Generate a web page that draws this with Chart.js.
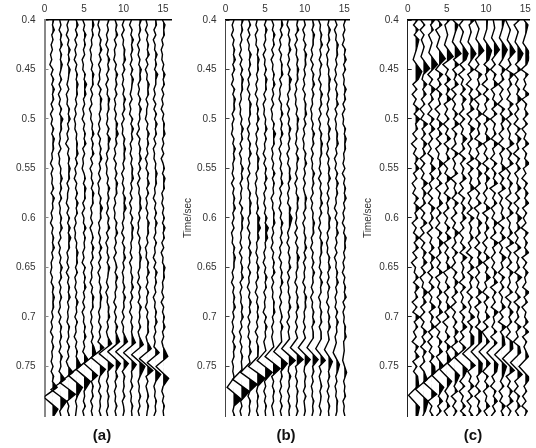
<!DOCTYPE html>
<html>
<head>
<meta charset="utf-8">
<script src="https://cdn.jsdelivr.net/npm/chart.js@4"></script>
<style>
html, body { margin: 0; padding: 0; background: #fff; overflow: hidden; width: 536px; height: 448px; }
canvas { position: absolute; top: 0; }
.caption { position: absolute; top: 426px; width: 60px; text-align: center; font: bold 15px 'Liberation Sans'; color: #111; }
</style>
</head>
<body>
<canvas id="panelA" width="204" height="448" style="left:0"></canvas>
<canvas id="panelB" width="209" height="448" style="left:181px"></canvas>
<canvas id="panelC" width="176" height="448" style="left:360px"></canvas>
<div class="caption" style="left:72px">(a)</div>
<div class="caption" style="left:256px">(b)</div>
<div class="caption" style="left:443px">(c)</div>
<script>
Chart.defaults.font.family = 'Liberation Sans';
Chart.defaults.font.size = 10;
Chart.defaults.color = '#333';

const traceTicks = [0, 5, 10, 15];
const timeTicks = [0.4, 0.45, 0.5, 0.55, 0.6, 0.65, 0.7, 0.75];
const traceNumbers = [1, 2, 3, 4, 5, 6, 7, 8, 9, 10, 11, 12, 13, 14, 15];

// sample times in ms, amplitudes below are in tenths of a trace spacing
const timeSamples = [400,405,410,415,420,425,430,435,440,445,450,455,460,465,470,475,480,485,490,495,500,505,510,515,520,525,530,535,540,545,550,555,560,565,570,575,580,585,590,595,600,605,610,615,620,625,630,635,640,645,650,655,660,665,670,675,680,685,690,695,700,705,710,715,720,725,730,735,740,745,750,755,760,765,770,775,780,785,790,795,800];

const noiseA = [
[2,0,3,-1,1,-2,0,-3,-1,-4,1,-2,2,-1,3,0,2,-2,1,-3,0,-2,2,-1,3,1,2,-1,0,-3,1,-2,0,-1,2,-2,3,0,1,-2,0,-3,1,-1,2,0,3,-1,1,-2,-1,-3,0,-2,2,0,3,1,2,-1,1,-2,0,-3,1,-1,2,-1,0,-2,1,-2,2,0,1,-1,2,-2,1,-1,2,0,1],
[-1,1,-2,2,0,3,-1,2,0,3,1,-1,2,-2,1,-3,0,-2,2,-1,4,1,2,-1,0,-2,1,-3,-1,-2,1,0,3,0,2,-1,2,-2,0,-1,2,0,3,-1,1,-3,0,-2,1,-1,3,0,2,-2,1,-1,2,-1,0,-3,1,-2,2,0,2,-1,1,-2,3,0,1,-2,0,-3,1,-1,2,0,2,-1,1,-2,0],
[1,-2,0,-3,1,-1,3,0,2,-1,3,1,0,-2,1,-3,-1,-2,2,0,3,-1,1,-2,0,-4,1,-1,2,0,3,1,2,-2,1,-1,-1,-3,1,-2,2,-1,3,0,4,1,2,-2,0,-2,1,-3,1,-1,2,0,3,-1,1,-1,0,-2,2,0,1,-2,2,-1,1,-3,0,-1,2,-1,3,0,1,-2,1,-1,2],
[0,3,-1,2,-2,1,-2,0,-3,1,-1,2,0,3,1,2,-1,1,-2,0,-3,-1,-2,1,0,2,1,3,-1,2,-2,0,-3,1,-1,2,-1,3,0,2,-2,0,-3,-1,-2,1,0,3,1,2,-1,2,-2,0,-2,1,-1,3,0,1,-2,2,-1,0,-3,1,-1,2,0,3,-1,1,-2,1,-2,0,2,-1,1,0,-1],
[-2,1,-1,3,0,2,-1,1,-3,-1,-2,2,0,4,1,3,-1,1,-2,0,-3,1,-1,2,0,3,-2,1,-2,-1,-3,0,2,-1,3,1,2,-2,1,-3,0,-1,3,-1,2,0,1,-2,0,-3,2,-1,2,0,3,-1,1,-2,1,-3,0,-1,2,0,3,-1,1,-2,0,-2,2,-1,1,-2,3,0,1,-1,2,-2,0],
[1,3,0,2,-1,0,-3,-1,-2,1,-1,3,1,2,-2,1,-2,0,-4,-1,-2,1,0,3,-1,2,0,3,-2,1,-3,0,-1,2,-1,3,1,2,-2,0,-2,1,-3,0,2,-1,3,0,2,-2,1,-1,0,-3,1,-1,3,1,2,-2,0,-2,1,-1,2,-1,3,0,1,-2,1,-3,0,-1,2,0,2,-2,1,-1,1],
[-1,-3,0,-2,2,0,3,-1,2,-2,1,-1,0,-3,2,-1,3,1,2,-1,1,-2,0,-3,1,-1,2,0,3,-1,1,-2,1,-3,-1,-2,2,0,4,1,2,-2,0,-2,1,-1,3,-1,2,-2,1,-3,0,-1,2,0,3,1,1,-2,0,-2,2,-1,1,-3,1,-1,3,0,2,-1,0,-2,1,-2,2,0,1,-1,2],
[2,-1,1,-2,0,-3,1,-1,3,0,2,-2,1,-3,0,-1,3,1,2,-1,0,-2,2,-1,4,1,2,-2,0,-3,-1,-2,1,-1,3,0,2,-1,1,-2,2,0,3,-2,1,-3,0,-1,2,-1,3,1,0,-2,1,-3,0,-1,2,1,3,-1,1,-2,0,-1,2,-1,1,-2,2,0,1,-2,1,-1,2,0,1,-2,0],
[-1,2,0,3,-2,1,-2,-1,-3,1,-1,3,0,2,-1,2,-2,0,-2,1,-1,3,1,4,0,2,-2,0,-3,1,-1,2,-1,3,1,2,-2,0,-3,-1,-2,2,0,3,-1,1,-2,1,-3,0,2,-1,3,0,2,-1,0,-3,1,-2,1,-1,3,0,2,-2,1,-1,0,-2,2,0,3,-1,1,-2,0,-1,2,-1,1],
[1,-2,1,-3,0,-1,2,1,3,-1,2,-2,0,-2,1,-1,3,0,2,-2,1,-3,-1,-2,2,0,3,1,2,-1,1,-3,0,-2,1,-1,3,1,4,0,1,-2,0,-3,1,-2,2,0,3,-1,1,-2,0,-1,2,-1,3,0,1,-2,1,-3,0,-1,3,-1,2,0,1,-2,1,-2,2,0,1,-1,2,-2,0,1,-1],
[0,-3,1,-1,3,0,2,-1,1,-2,2,-1,3,1,0,-2,1,-3,-1,-3,2,-1,3,0,2,-2,0,-2,1,-1,2,1,3,-1,1,-2,1,-3,0,-2,2,-1,3,1,2,-1,0,-2,1,-3,0,-1,2,0,3,-1,2,-2,0,-3,1,-1,2,0,2,-1,1,-2,1,-2,3,0,1,-1,2,-2,0,-1,2,0,1],
[3,0,2,-1,1,-3,0,-2,1,-1,3,1,2,-2,0,-2,2,-1,3,0,1,-2,0,-4,1,-1,2,0,3,-1,2,-2,1,-3,0,-1,2,1,3,-1,1,-2,-1,-3,1,-1,2,0,3,1,1,-2,0,-3,2,-1,1,-2,3,0,1,-1,2,-2,0,-3,1,-1,2,0,3,-1,1,-2,0,-1,2,-1,1,-2,0],
[-2,0,-3,1,-1,2,0,3,-2,1,-3,0,-1,3,1,2,-2,1,-1,-1,-3,1,-1,3,0,2,-1,1,-3,0,-2,2,0,3,-1,2,-2,0,-2,1,-1,3,1,2,-1,1,-3,-1,-2,2,0,3,-1,1,-2,2,-1,0,-3,1,-1,2,1,2,-2,0,-2,1,-1,3,0,1,-2,1,-2,0,2,-1,2,0,-1],
[1,2,-2,1,-3,0,-1,3,0,2,-1,4,1,1,-2,0,-3,1,-2,2,-1,3,0,2,-2,1,-3,-1,-2,1,0,3,1,2,-1,0,-3,1,-1,2,-1,3,0,1,-2,2,-1,0,-3,1,-2,3,0,2,-1,1,-3,0,-1,2,0,3,-1,1,-2,0,-2,1,-1,2,0,3,-1,1,-2,0,-1,2,0,1,-2],
[-1,3,1,2,-2,0,-3,-1,-2,1,-1,3,0,2,-2,1,-2,0,-3,1,-1,2,1,3,-1,1,-2,1,-3,0,2,-1,3,1,2,-2,0,-2,1,-1,2,-1,3,0,2,-2,1,-3,0,-1,3,1,2,-1,0,-2,1,-3,1,-1,2,0,3,-1,1,-2,0,-1,2,0,1,-2,2,-1,0,-2,1,-1,2,0,1]
];
const noiseB = [
[1,-2,0,-3,1,-1,2,0,3,-1,2,-2,0,-3,2,-1,3,1,2,-2,1,-2,-1,-3,1,-1,3,0,2,-1,0,-2,1,-3,1,-1,2,0,3,-1,1,-2,1,-3,-1,-2,2,0,3,1,1,-2,0,-3,1,-1,2,0,3,-1,1,-2,0,-2,2,-1,3,0,1,-2,0,-1,2,-1,3,0,1,-2,1,-1,2],
[3,0,2,-1,1,-2,0,-3,1,-2,2,-1,3,1,2,-1,0,-3,-1,-2,1,-1,3,0,2,-2,1,-3,0,-1,3,0,2,-2,1,-1,0,-3,2,-1,3,1,2,-1,0,-2,1,-3,1,-1,2,0,3,-2,1,-2,0,-1,2,0,3,-1,1,-3,0,-2,1,-1,2,0,1,-2,1,-2,2,0,3,-1,1,-2,0],
[-1,2,-2,1,-3,0,-1,3,0,2,-1,2,-2,0,-3,1,-1,3,1,2,-1,1,-3,0,-2,2,0,3,-1,1,-2,1,-3,-1,-2,2,0,3,1,2,-2,0,-3,1,-1,2,-1,3,0,1,-2,2,-1,0,-3,1,-1,3,0,2,-2,1,-2,0,-2,2,0,3,-1,1,-2,0,-1,2,-1,1,-2,2,0,1,-1],
[0,-2,1,-3,-1,-2,2,0,3,1,2,-1,1,-2,0,-3,1,-1,2,0,3,-1,2,-2,0,-2,1,-1,3,1,2,-2,0,-3,-1,-2,1,0,2,-1,4,2,5,1,3,-1,0,-2,1,-1,3,0,2,-2,0,-3,1,-1,2,0,2,-1,1,-3,1,-1,2,0,3,-1,1,-2,0,-2,1,-1,2,0,1,-1,2],
[2,-1,3,0,1,-2,1,-3,0,-1,2,-1,3,1,2,-2,1,-3,-1,-2,1,0,3,-1,2,-1,0,-3,1,-2,2,0,3,-1,2,-2,0,-2,1,-1,3,0,5,2,4,0,1,-2,0,-3,1,-1,3,0,2,-2,1,-1,0,-3,2,-1,3,0,1,-2,1,-2,0,-1,2,0,3,-1,1,-2,1,-1,2,0,1],
[-2,1,-1,3,0,2,-2,1,-3,0,-1,2,0,3,-1,1,-2,1,-3,-1,-2,2,0,4,1,2,-2,0,-2,1,-1,3,-1,2,0,1,-3,0,-1,2,1,3,-1,1,-2,0,-3,1,-1,2,0,3,-2,1,-2,0,-1,2,1,3,-1,1,-2,0,-2,1,-1,2,-1,3,0,1,-2,1,-1,2,0,1,-2,0,1],
[1,3,-1,2,-2,0,-3,1,-1,2,1,3,-2,1,-2,-1,-3,1,0,3,-1,2,0,3,-1,1,-3,0,-2,1,-1,2,0,3,-2,1,-2,0,-3,1,-1,3,0,2,-1,2,-2,0,-3,1,-1,2,0,3,-1,1,-2,1,-2,0,2,-1,3,0,1,-2,0,-3,1,-1,2,0,2,-1,1,-2,1,-1,2,-1,1],
[-1,-3,1,-1,2,0,3,-1,1,-2,2,-1,4,1,2,-2,0,-3,1,-2,1,-1,3,0,2,-1,1,-3,0,-2,2,1,3,-1,1,-2,0,-2,3,1,5,3,1,-2,0,-3,1,-1,2,0,3,-2,1,-2,0,-1,2,0,3,-1,1,-3,1,-1,2,0,2,-2,1,-2,0,-1,3,0,1,-2,1,-1,2,0,1],
[2,0,3,-2,1,-3,0,-1,2,0,3,1,2,-2,0,-3,-1,-2,1,-1,3,1,2,-1,0,-2,2,-1,3,0,1,-2,1,-3,0,-1,3,1,2,-1,0,-2,1,-3,1,-2,2,0,4,1,2,-1,0,-3,1,-1,2,0,3,-1,1,-2,1,-2,0,2,-1,3,0,1,-2,0,-2,1,-1,2,0,1,-1,2,-1],
[-1,1,-3,0,-2,2,-1,3,1,2,-1,1,-2,0,-3,1,-1,2,1,3,-1,2,-2,0,-3,-1,-2,2,0,3,-1,1,-2,1,-2,0,3,1,2,-2,1,-3,0,-1,2,0,3,-1,2,-2,1,-1,0,-3,1,-1,3,1,2,-1,0,-2,1,-2,2,-1,3,0,1,-2,0,-1,2,0,1,-2,2,-1,0,1,-1],
[0,2,-1,3,1,1,-2,0,-3,1,-2,2,0,3,-1,2,-1,0,-3,-1,-2,1,-1,3,0,2,-2,1,-2,0,-1,3,0,2,-1,1,-3,0,-2,1,0,3,1,2,-2,0,-3,1,-1,2,-1,3,0,1,-2,1,-3,0,-1,2,0,3,-1,1,-2,0,-2,1,-1,2,0,2,-1,1,-2,0,-1,2,0,1,-1],
[-3,0,-1,2,0,3,-1,1,-2,2,-1,0,-3,1,-1,3,0,2,-2,1,-3,0,-2,2,0,3,1,2,-1,0,-2,1,-3,1,-1,2,0,3,-1,2,-2,0,-3,1,-1,3,1,2,-1,0,-2,2,-1,3,0,1,-3,0,-1,2,0,2,-2,1,-2,0,-1,3,0,1,-2,1,-2,0,2,-1,1,0,-2,1,-1],
[1,-1,3,0,2,-2,1,-3,-1,-2,1,0,3,1,2,-1,1,-2,0,-3,1,-1,3,0,2,-2,0,-3,1,-1,2,0,3,-1,1,-2,1,-2,0,-1,3,1,2,-2,0,-3,-1,-2,2,0,3,-1,1,-2,2,-1,0,-3,1,-1,2,0,3,-1,1,-2,0,-2,1,-1,2,0,2,-1,1,-2,1,-1,2,0,1],
[-2,1,-3,0,-1,3,1,2,-1,1,-2,0,-3,1,-1,2,0,3,-2,1,-2,0,-1,2,1,3,-1,1,-3,0,-2,2,-1,3,0,2,-1,0,-3,1,-2,2,0,3,-1,1,-2,1,-3,0,-1,2,0,3,-1,1,-2,0,-2,2,-1,3,0,1,-2,1,-3,0,-1,2,0,2,-1,1,-2,0,-1,2,1,1,-1],
[2,-1,1,-2,0,-3,2,0,3,-1,2,-2,0,-1,3,0,2,-2,1,-3,-1,-2,2,0,3,1,2,-1,0,-2,1,-3,1,-1,2,0,3,-1,1,-2,0,-3,1,-1,3,1,2,-1,1,-2,0,-3,1,-1,2,0,3,-2,1,-2,0,-1,2,1,3,-1,1,-2,0,-2,1,-1,2,-1,1,0,2,-2,0,-1,1]
];
const noiseC = [
[3,-3,4,-2,5,-4,1,-5,3,-2,6,-1,4,-4,2,-5,1,-3,5,-2,6,0,3,-4,2,-6,1,-3,4,-1,5,-3,2,-5,0,-4,4,-2,6,-1,3,-5,1,-3,5,-2,4,-4,2,-6,0,-2,4,-3,5,-1,3,-5,2,-4,6,-2,3,-3,1,-5,4,-1,5,-4,2,-3,3,-5,1,-2,4,-3,5,-1,3],
[-4,2,-5,1,-3,5,-1,4,-4,3,-6,0,-2,5,-1,4,-3,2,-5,1,-4,6,-2,3,-3,5,-1,3,-5,2,-4,1,-3,6,-2,4,-1,3,-5,2,-3,5,-4,1,-6,2,-3,4,-1,5,-3,3,-5,0,-2,6,-1,4,-4,2,-5,1,-3,5,-2,3,-4,4,-1,2,-5,1,-3,4,-2,5,-3,2,-4,3,-1],
[5,-1,3,-4,2,-6,1,-3,4,-2,5,-5,2,-3,6,-1,3,-4,1,-5,4,-2,5,-3,2,-4,0,-5,3,-1,6,-2,4,-3,1,-5,2,-4,5,-1,3,-3,2,-6,1,-2,4,-3,5,-1,3,-5,2,-3,4,-4,1,-2,6,-3,3,-1,5,-4,2,-5,1,-3,4,-2,5,-4,2,-3,3,-1,4,-5,1,-2,3],
[-2,4,-5,3,-1,6,-3,2,-4,1,-5,5,-2,3,-4,4,-1,2,-6,1,-3,5,-2,4,-4,3,-5,0,-2,6,-1,3,-3,4,-5,2,-1,5,-3,3,-4,1,-5,4,-2,6,-1,3,-4,2,-3,5,-5,1,-2,4,-3,3,-1,5,-4,2,-6,1,-3,4,-1,5,-4,3,-2,2,-5,1,-3,4,-1,5,-2,3,-4],
[4,-3,2,-5,5,-1,3,-4,1,-6,2,-2,5,-3,4,-1,6,-4,1,-3,3,-5,2,-2,5,-4,3,-1,4,-5,1,-3,6,-2,2,-4,5,-1,3,-5,1,-3,4,-2,6,-4,2,-3,3,-1,5,-5,1,-2,4,-4,2,-1,5,-3,3,-6,1,-2,4,-3,5,-1,2,-4,3,-5,1,-2,5,-3,2,-1,4,-4,1],
[-3,5,-1,2,-4,4,-5,1,-2,6,-3,3,-1,5,-5,2,-4,1,-3,4,-2,6,-4,3,-1,2,-5,5,-3,1,-2,4,-6,2,-1,3,-4,5,-2,3,-5,1,-3,6,-1,2,-4,4,-3,1,-5,3,-2,5,-1,4,-4,2,-6,1,-3,3,-2,5,-1,4,-5,2,-3,1,-4,5,-2,3,-1,4,-5,2,-3,3,-2],
[1,-5,4,-2,6,-3,2,-1,5,-4,3,-6,1,-2,4,-3,5,-1,2,-5,3,-4,1,-2,6,-1,3,-5,4,-3,2,-1,5,-4,1,-6,3,-2,4,-1,5,-3,2,-5,1,-3,4,-4,6,-2,2,-1,3,-5,4,-3,1,-2,5,-4,3,-1,6,-3,2,-5,1,-3,4,-2,5,-1,2,-4,3,-5,1,-2,4,-3,5],
[6,-2,1,-4,3,-5,4,-1,2,-3,5,-4,1,-6,3,-2,4,-1,5,-5,2,-3,6,-1,3,-4,1,-2,5,-5,4,-3,2,-1,6,-4,1,-3,3,-5,5,-2,2,-1,4,-3,1,-6,3,-2,5,-4,4,-1,2,-5,3,-3,1,-2,6,-4,3,-1,5,-5,2,-3,4,-1,3,-4,1,-2,5,-3,3,-5,1,-2,4],
[-5,2,-1,4,-3,6,-2,3,-4,1,-5,5,-1,2,-3,4,-6,1,-2,5,-4,3,-1,2,-5,6,-3,1,-4,4,-2,5,-1,3,-5,2,-3,4,-6,1,-2,5,-1,3,-4,2,-5,4,-1,6,-3,2,-4,1,-2,5,-3,4,-5,1,-1,3,-4,5,-2,2,-6,3,-1,4,-3,5,-2,1,-4,3,-5,2,-1,4,-3],
[2,-4,6,-1,3,-5,1,-2,4,-3,5,-1,2,-6,3,-4,4,-2,1,-5,5,-3,2,-1,6,-4,1,-3,3,-5,4,-2,5,-1,2,-4,1,-3,6,-5,3,-1,4,-2,2,-5,1,-3,5,-4,3,-1,6,-2,1,-5,4,-3,2,-1,5,-4,3,-6,1,-2,4,-3,5,-1,2,-5,3,-2,4,-4,1,-1,5,-3,2],
[-1,3,-4,5,-2,1,-6,4,-3,2,-5,3,-1,6,-4,1,-2,5,-3,4,-5,2,-1,3,-4,6,-2,1,-5,4,-3,3,-1,5,-6,2,-2,4,-4,1,-3,5,-1,3,-5,6,-2,2,-4,1,-3,4,-1,5,-5,3,-2,2,-4,6,-1,1,-3,4,-5,3,-2,5,-1,2,-4,4,-3,1,-5,3,-1,5,-2,2,-4],
[4,-1,2,-5,3,-3,6,-2,1,-4,5,-1,3,-5,2,-3,1,-6,4,-2,5,-1,3,-4,2,-5,4,-3,1,-1,6,-4,3,-2,5,-5,1,-3,2,-1,4,-6,3,-2,5,-4,1,-3,6,-1,2,-5,4,-2,3,-4,1,-1,5,-3,2,-5,6,-2,3,-4,1,-3,4,-1,5,-5,2,-2,3,-4,1,-3,5,-1,3],
[-6,1,-3,4,-1,5,-4,3,-2,2,-5,6,-1,3,-3,1,-4,5,-2,4,-5,2,-3,1,-1,6,-4,3,-2,5,-5,1,-3,4,-1,2,-6,3,-2,5,-4,1,-1,4,-3,6,-5,2,-2,3,-4,5,-1,1,-3,4,-6,2,-2,5,-1,3,-4,1,-5,4,-3,2,-1,6,-2,3,-5,1,-3,4,-1,5,-4,2,-2],
[3,-5,1,-2,6,-4,2,-1,4,-3,5,-5,1,-3,3,-1,6,-2,2,-4,1,-5,4,-3,5,-1,2,-6,3,-2,4,-4,1,-1,5,-3,3,-5,2,-2,6,-1,4,-4,1,-3,5,-5,2,-1,3,-4,6,-2,1,-3,4,-5,3,-1,2,-4,5,-2,1,-6,3,-3,4,-1,5,-2,2,-4,1,-5,3,-1,4,-3,2],
[-2,4,-3,1,-5,5,-1,3,-4,2,-6,4,-2,1,-3,6,-5,2,-1,4,-3,3,-5,1,-2,5,-4,2,-1,6,-3,1,-5,3,-2,4,-1,5,-4,2,-3,1,-6,4,-2,3,-1,5,-5,2,-3,4,-1,1,-4,6,-2,3,-5,1,-1,4,-3,5,-4,2,-2,3,-5,1,-1,6,-3,4,-2,2,-4,1,-5,3,-1]
];

// lobe positions relative to the arrival, seconds
const lobeOffsets = [-0.010, 0, 0.012];

const arrivalsA = [0.781,0.773,0.766,0.759,0.753,0.747,0.741,0.737,0.735,0.735,0.736,0.738,0.742,0.746,0.750];
const lobesA = [[6,-11,7],[6,-12,8],[6,-11,9],[6,-10,8],[5,-10,8],[5,-10,7],[5,-11,7],[5,-11,7],[5,-10,6],[5,-10,6],[5,-10,6],[5,-10,7],[5,-10,7],[5,-10,7],[6,-9,7]];

const arrivalsB = [0.771,0.763,0.756,0.750,0.744,0.740,0.735,0.732,0.731,0.731,0.731,0.732,0.733,0.736,0.744];
const lobesB = [[1,-8,10],[1,-11,10],[1,-11,10],[1,-11,10],[1,-10,9],[1,-10,9],[1,-9,8],[1,-9,8],[1,-8,8],[1,-8,7],[1,-7,7],[1,-6,6],[1,-5,5],[0,-4,4],[0,-2,3]];

const arrivalsC1 = [0.440,0.437,0.433,0.427,0.425,0.422,0.422,0.422,0.419,0.419,0.418,0.418,0.420,0.422,0.423];
const lobesC1 = [[1,-3,8],[1,-3,8],[1,-3,8],[1,-3,8],[1,-3,8],[1,-3,8],[1,-3,7],[1,-3,7],[1,-3,7],[1,-3,7],[1,-3,7],[1,-3,7],[1,-3,7],[1,-3,7],[1,-3,7]];

const arrivalsC2 = [0.779,0.773,0.766,0.759,0.753,0.747,0.741,0.737,0.735,0.735,0.736,0.738,0.742,0.746,0.750];
const lobesC2 = [[4,-9,5],[5,-10,6],[5,-10,7],[5,-9,6],[5,-9,6],[4,-9,6],[4,-10,6],[4,-10,6],[4,-9,5],[4,-9,5],[4,-9,5],[4,-9,6],[4,-9,6],[4,-9,6],[4,-8,6]];

function tracePoints(trace, noise, noiseGain, events) {
    const points = [];
    timeSamples.forEach((ms, i) => {
        const t = ms / 1000;
        // the noise is not drawn under an event
        const inEvent = events.some(e => t > e.arrival - 0.016 && t < e.arrival + 0.018);
        if (!inEvent) points.push({x: trace + noise[i] * noiseGain / 10, y: t});
    });
    events.forEach(e => {
        e.lobes.forEach((a, j) => points.push({x: trace + a / 10, y: e.arrival + lobeOffsets[j]}));
    });
    return points.sort((p, q) => p.y - q.y);
}

// positive side only, with the zero crossings put in so the black stays inside the wiggle
function positiveSide(trace, points) {
    const out = [];
    points.forEach((p, i) => {
        const prev = points[i - 1];
        if (prev && (prev.x - trace) * (p.x - trace) < 0) {
            const f = (trace - prev.x) / (p.x - prev.x);
            out.push({x: trace, y: prev.y + f * (p.y - prev.y)});
        }
        out.push({x: Math.max(p.x, trace), y: p.y});
    });
    return out;
}

function buildDatasets(noiseRows, noiseGain, eventLists) {
    const datasets = [];
    traceNumbers.forEach((trace, k) => {
        const events = eventLists.map(ev => ({arrival: ev.arrivals[k], lobes: ev.lobes[k]}));
        const points = tracePoints(trace, noiseRows[k], noiseGain, events);
        // tension just above 0 keeps Chart.js off its fast path, which collapses vertical lines
        datasets.push({
            data: positiveSide(trace, points),
            borderWidth: 0,
            pointRadius: 0,
            tension: 0.001,
            backgroundColor: '#000',
            fill: {value: trace}
        });
        datasets.push({
            data: points,
            borderColor: '#000',
            borderWidth: 1.4,
            pointRadius: 0,
            tension: 0.001,
            fill: false
        });
    });
    return datasets;
}

function drawPanel(id, datasets, cfg) {
    const ctx = document.getElementById(id).getContext('2d');
    new Chart(ctx, {
        type: 'line',
        data: {datasets: datasets},
        options: {
            indexAxis: 'y',
            responsive: false,
            animation: false,
            parsing: {xAxisKey: 'x', yAxisKey: 'y'},
            layout: {padding: {right: cfg.rightPad, bottom: 32}},
            plugins: {
                legend: {display: false},
                tooltip: {enabled: false}
            },
            scales: {
                x: {
                    type: 'linear',
                    position: 'top',
                    min: 0,
                    max: cfg.xMax,
                    border: {color: '#000', width: 1.6},
                    grid: {drawOnChartArea: false, drawTicks: false},
                    ticks: {padding: 5, maxRotation: 0},
                    afterBuildTicks: s => { s.ticks = traceTicks.map(v => ({value: v})); },
                    afterFit: s => { s.height = 20; }
                },
                y: {
                    type: 'linear',
                    reverse: true,
                    min: 0.4,
                    max: 0.8,
                    border: {color: cfg.axisColor, width: cfg.axisWidth},
                    grid: {drawOnChartArea: false, color: cfg.axisColor, tickLength: -4},
                    ticks: {padding: 13, callback: v => String(v)},
                    title: {display: cfg.showTitle, text: 'Time/sec', padding: {top: cfg.titlePad, bottom: 0}},
                    afterBuildTicks: s => { s.ticks = timeTicks.map(v => ({value: v})); },
                    afterFit: s => { s.width = cfg.axisRight; }
                }
            }
        }
    });
}

drawPanel('panelA', buildDatasets(noiseA, 0.8, [{arrivals: arrivalsA, lobes: lobesA}]),
    {rightPad: 33, xMax: 16, axisColor: '#888', axisWidth: 2, showTitle: false, titlePad: 0, axisRight: 44.5});
drawPanel('panelB', buildDatasets(noiseB, 0.8, [{arrivals: arrivalsB, lobes: lobesB}]),
    {rightPad: 41, xMax: 15.6, axisColor: '#444', axisWidth: 1, showTitle: true, titlePad: 1, axisRight: 44.5});
drawPanel('panelC', buildDatasets(noiseC, 0.85, [{arrivals: arrivalsC1, lobes: lobesC1}, {arrivals: arrivalsC2, lobes: lobesC2}]),
    {rightPad: 5, xMax: 15.5, axisColor: '#222', axisWidth: 1, showTitle: true, titlePad: 2, axisRight: 47.7});
</script>
</body>
</html>
